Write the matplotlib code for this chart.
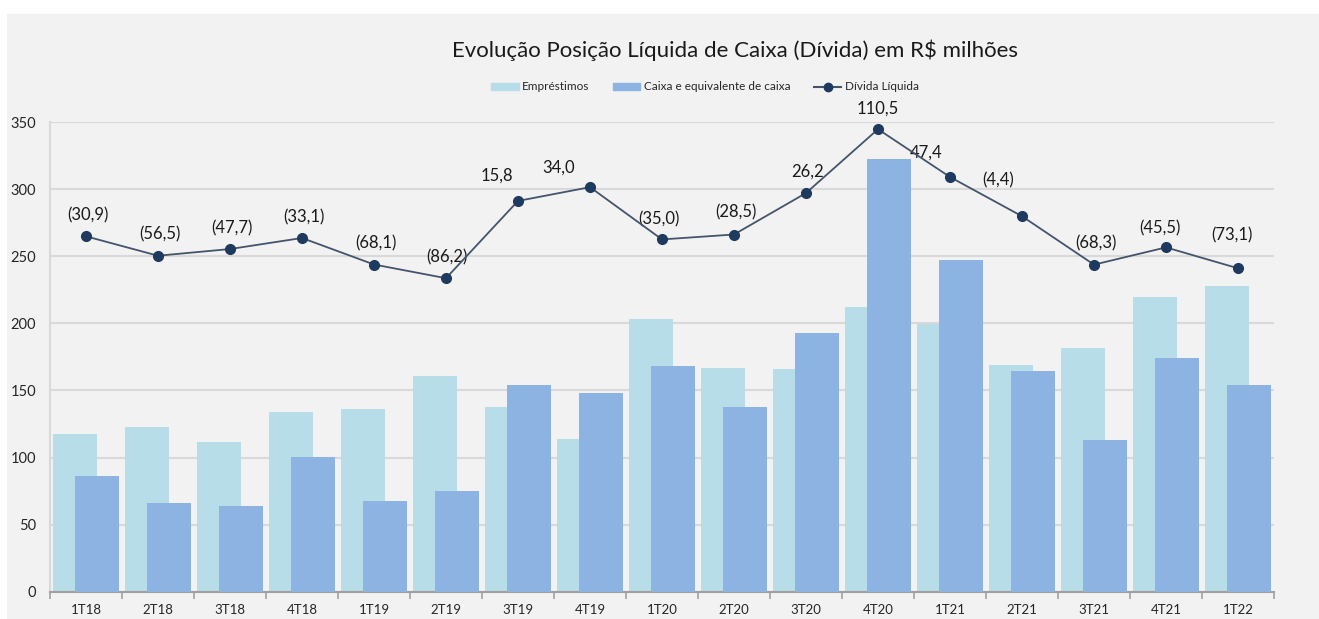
import matplotlib
matplotlib.use("Agg")
import matplotlib.pyplot as plt
import matplotlib.patches as mpatches
from matplotlib.lines import Line2D
import numpy as np

quarters = ["1T18", "2T18", "3T18", "4T18", "1T19", "2T19", "3T19", "4T19", "1T20",
	"2T20", "3T20", "4T20", "1T21", "2T21", "3T21", "4T21", "1T22"]
emprestimos = [117.3, 123.0, 111.5, 133.7, 136.1, 161.0, 137.9, 114.0, 203.2,
	166.5, 166.3, 212.0, 199.6, 168.7, 181.4, 219.6, 227.7]
caixa = [86.5, 66.3, 63.9, 100.6, 67.8, 75.0, 153.8, 148.0, 168.2,
	137.9, 192.5, 322.4, 247.0, 164.5, 113.0, 174.1, 154.2]
divida = [-30.9, -56.5, -47.7, -33.1, -68.1, -86.2, 15.8, 34.0, -35.0,
	-28.5, 26.2, 110.5, 47.4, -4.4, -68.3, -45.5, -73.1]

# label nudges (pixels) so they sit like in the original
label_dx = [2, 2, 2, 2, 2, 1, -21, -31, -3, 2, 2, 0, -24, -24, 2, -6, -6]
label_dy = [21, 21, 21, 21, 21, 21, 25, 20, 20, 22, 21, 21, 24, 36, 21, 19, 33]

light = "#b7dde8"
dark = "#8db3e2"
navy = "#1f3a5f"

plt.rcParams['font.family'] = ['Lato', 'DejaVu Sans']

fig = plt.figure(figsize=(13.19, 6.19), dpi=100)
fig.patches.append(mpatches.Rectangle((7 / 1319, 0), 1 - 7 / 1319, 1 - 14 / 619,
	transform=fig.transFigure, facecolor="#f2f2f2", edgecolor="none", zorder=-10))

ax = fig.add_axes([50 / 1319, 27.3 / 619, 1224 / 1319, 469.7 / 619])
ax.set_facecolor("none")
x = np.arange(len(quarters))
w = 0.61
off = 0.153
ax.bar(x - off, emprestimos, w, color=light, zorder=2)
ax.bar(x + off, caixa, w, color=dark, zorder=3)

ax.set_xlim(-0.5, len(quarters) - 0.5)
ax.set_ylim(0, 350)
ax.set_yticks(range(0, 351, 50))
ax.yaxis.grid(True, color="#d9d9d9", linewidth=1.5, zorder=0)
ax.set_axisbelow(True)
ax.tick_params(axis="y", length=0, labelsize=10.5, pad=10, colors="#262626")
ax.set_xticks(np.arange(-0.5, len(quarters), 1.0))
ax.set_xticklabels([])
ax.set_xticks(x, minor=True)
ax.set_xticklabels(quarters, minor=True)
ax.tick_params(axis="x", which="major", length=5, color="#a0a0a0", width=1.2)
ax.tick_params(axis="x", which="minor", length=0, labelsize=9.5, pad=9, colors="#262626")
for s in ["top", "right"]:
	ax.spines[s].set_visible(False)
ax.spines["left"].set_color("#d9d9d9")
ax.spines["left"].set_linewidth(1.5)
ax.spines["bottom"].set_color("#a0a0a0")
ax.spines["bottom"].set_linewidth(1.5)

ax2 = ax.twinx()
ax2.set_ylim(-500, 120)
ax2.axis("off")
ax2.plot(x, divida, color="#44546a", linewidth=1.3, marker="o", markersize=7,
	markerfacecolor=navy, markeredgecolor=navy, zorder=5)
for i, v in enumerate(divida):
	txt = "{:.1f}".format(abs(v)).replace(".", ",")
	if v < 0:
		txt = "(" + txt + ")"
	ax2.annotate(txt, (x[i], v), xytext=(label_dx[i], label_dy[i]), textcoords="offset pixels",
		ha="center", va="center", fontsize=12, color="#1a1a1a")

fig.text(735 / 1319, 1 - 50 / 619, "Evolução Posição Líquida de Caixa (Dívida) em R$ milhões",
	ha="center", va="center", fontsize=16, color="#1a1a1a")

handles = [mpatches.Patch(color=light, label="Empréstimos"),
	mpatches.Patch(color=dark, label="Caixa e equivalente de caixa"),
	Line2D([], [], color="#44546a", marker="o", markersize=6, markerfacecolor=navy,
		markeredgecolor=navy, label="Dívida Líquida")]
fig.legend(handles=handles, loc="center", bbox_to_anchor=(705 / 1319, 1 - 87 / 619), ncol=3,
	frameon=False, fontsize=8.5, handlelength=2.3, handleheight=0.5, handletextpad=0.3,
	columnspacing=2.0, labelcolor="#262626")

fig.savefig("out.png", dpi=100, facecolor="white")
